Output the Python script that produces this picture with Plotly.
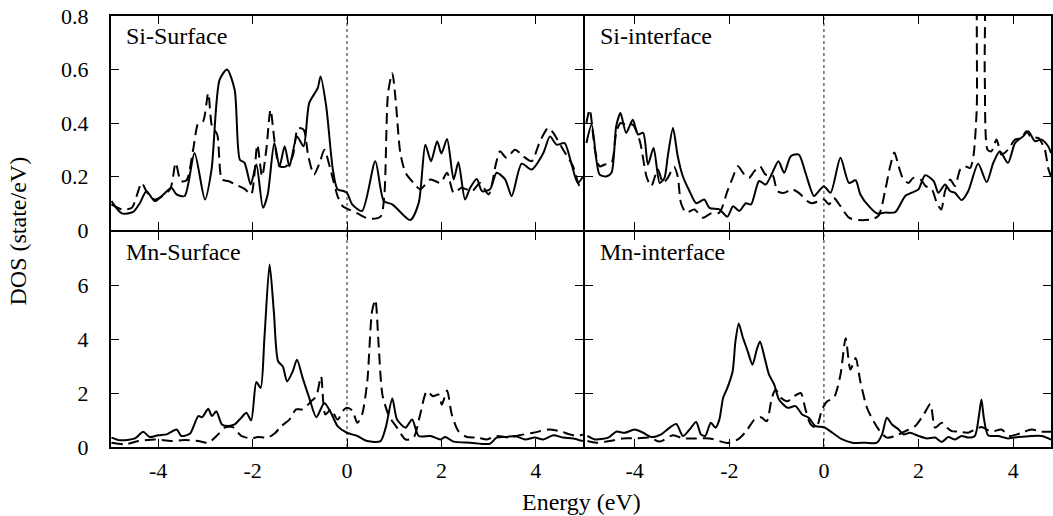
import plotly.graph_objects as go

# ---------------- data ----------------
si_surf_E_up = [-4.99,-4.77,-4.53,-4.39,-4.25,-4.07,-3.89,-3.72,-3.61,-3.44,-3.23,-3.01,-2.87,-2.70,-2.54,-2.38,-2.27,-2.17,-2.04,-1.92,-1.78,-1.68,-1.54,-1.43,-1.32,-1.22,-1.06,-0.92,-0.80,-0.62,-0.56,-0.44,-0.30,-0.20,-0.06,0.0,0.11,0.32,0.60,0.78,0.96,1.34,1.52,1.66,1.78,1.91,2.00,2.12,2.26,2.36,2.50,2.61,2.75,2.86,3.03,3.17,3.35,3.49,3.70,3.91,4.16,4.30,4.44,4.61,4.75,4.89,5.0]
si_surf_up = [0.108,0.062,0.068,0.10,0.145,0.108,0.133,0.158,0.133,0.127,0.288,0.114,0.226,0.561,0.60,0.524,0.263,0.251,0.17,0.245,0.083,0.133,0.325,0.238,0.313,0.238,0.35,0.313,0.475,0.53,0.574,0.462,0.226,0.152,0.145,0.139,0.096,0.071,0.257,0.108,0.096,0.037,0.102,0.319,0.257,0.332,0.286,0.34,0.189,0.253,0.114,0.158,0.191,0.145,0.152,0.214,0.189,0.127,0.248,0.226,0.288,0.35,0.319,0.325,0.251,0.176,0.20]
si_surf_E_dn = [-4.99,-4.77,-4.56,-4.35,-4.25,-4.07,-3.75,-3.63,-3.52,-3.40,-3.26,-3.15,-3.05,-2.94,-2.86,-2.75,-2.65,-2.52,-2.31,-2.17,-2.03,-1.90,-1.80,-1.71,-1.62,-1.53,-1.43,-1.29,-1.15,-1.04,-0.92,-0.82,-0.70,-0.58,-0.48,-0.35,-0.20,-0.09,0.0,0.22,0.46,0.71,0.79,0.87,0.96,1.03,1.13,1.24,1.41,1.55,1.77,1.98,2.12,2.26,2.43,2.65,2.82,3.00,3.16,3.24,3.38,3.56,3.73,3.91,4.09,4.26,4.37,4.58,4.79,4.93,5.0]
si_surf_dn = [0.096,0.077,0.083,0.176,0.145,0.114,0.152,0.251,0.183,0.186,0.30,0.40,0.406,0.512,0.388,0.357,0.189,0.183,0.166,0.154,0.133,0.319,0.20,0.30,0.45,0.325,0.238,0.238,0.276,0.38,0.375,0.276,0.207,0.251,0.30,0.226,0.127,0.089,0.08,0.062,0.042,0.05,0.127,0.512,0.586,0.487,0.288,0.214,0.176,0.152,0.189,0.176,0.214,0.139,0.158,0.145,0.176,0.133,0.251,0.294,0.27,0.30,0.276,0.257,0.332,0.381,0.363,0.30,0.238,0.164,0.17]

si_int_E_up = [-5.02,-4.91,-4.81,-4.74,-4.60,-4.49,-4.39,-4.30,-4.18,-4.04,-3.93,-3.82,-3.72,-3.60,-3.47,-3.37,-3.30,-3.19,-3.09,-2.98,-2.84,-2.70,-2.53,-2.42,-2.21,-2.04,-1.92,-1.79,-1.65,-1.54,-1.37,-1.23,-1.09,-0.96,-0.84,-0.70,-0.53,-0.39,-0.21,-0.11,0.0,0.14,0.35,0.53,0.67,0.77,0.95,1.12,1.30,1.51,1.72,1.89,2.00,2.14,2.32,2.42,2.56,2.67,2.77,2.91,3.05,3.26,3.44,3.58,3.72,3.89,4.04,4.21,4.32,4.46,4.60,4.74,4.80]
si_int_up = [0.325,0.394,0.263,0.207,0.20,0.214,0.388,0.437,0.363,0.412,0.357,0.363,0.245,0.307,0.176,0.195,0.276,0.381,0.276,0.20,0.145,0.10,0.114,0.083,0.077,0.05,0.089,0.071,0.10,0.096,0.183,0.17,0.214,0.257,0.214,0.276,0.282,0.214,0.127,0.145,0.164,0.139,0.27,0.176,0.186,0.133,0.089,0.062,0.065,0.067,0.127,0.142,0.152,0.205,0.183,0.139,0.17,0.145,0.139,0.112,0.145,0.248,0.179,0.251,0.294,0.251,0.325,0.35,0.369,0.332,0.338,0.313,0.288]
si_int_E_dn = [-5.02,-4.95,-4.84,-4.74,-4.63,-4.49,-4.39,-4.30,-4.18,-4.04,-3.89,-3.75,-3.65,-3.51,-3.40,-3.30,-3.17,-3.09,-3.02,-2.91,-2.74,-2.56,-2.39,-2.21,-2.04,-1.93,-1.82,-1.68,-1.58,-1.47,-1.35,-1.23,-1.09,-0.98,-0.84,-0.67,-0.53,-0.35,-0.25,-0.11,0.0,0.11,0.21,0.35,0.53,0.74,1.02,1.16,1.30,1.40,1.49,1.58,1.68,1.79,1.89,2.04,2.15,2.28,2.39,2.48,2.56,2.67,2.77,2.88,2.98,3.09,3.16,3.23,3.29,3.36,3.40,3.46,3.54,3.65,3.75,3.89,4.04,4.18,4.28,4.39,4.53,4.67,4.74,4.80]
si_int_dn = [0.40,0.45,0.30,0.238,0.245,0.251,0.363,0.40,0.394,0.394,0.332,0.20,0.164,0.226,0.176,0.195,0.236,0.20,0.10,0.065,0.077,0.046,0.062,0.065,0.145,0.195,0.238,0.207,0.195,0.22,0.238,0.207,0.207,0.145,0.139,0.152,0.139,0.108,0.10,0.108,0.114,0.096,0.12,0.089,0.046,0.037,0.04,0.055,0.152,0.238,0.29,0.238,0.189,0.176,0.195,0.189,0.164,0.152,0.10,0.077,0.145,0.189,0.164,0.226,0.238,0.232,0.276,0.45,1.05,1.05,0.574,0.30,0.294,0.338,0.282,0.30,0.338,0.344,0.369,0.344,0.344,0.30,0.232,0.20]

mn_surf_E_up = [-4.99,-4.81,-4.49,-4.32,-4.18,-4.0,-3.82,-3.61,-3.51,-3.33,-3.15,-3.07,-2.94,-2.86,-2.77,-2.65,-2.52,-2.38,-2.24,-2.13,-2.03,-1.92,-1.83,-1.75,-1.64,-1.55,-1.46,-1.36,-1.27,-1.15,-1.06,-0.94,-0.80,-0.65,-0.48,-0.34,-0.20,0.0,0.22,0.43,0.71,0.82,0.96,1.06,1.24,1.38,1.52,1.77,1.98,2.08,2.26,2.61,3.03,3.17,3.38,3.56,3.77,3.98,4.16,4.37,4.58,4.79,5.0]
mn_surf_up = [0.35,0.25,0.32,0.57,0.37,0.44,0.47,0.65,0.41,0.49,1.15,1.11,1.42,1.15,1.33,0.84,0.78,0.84,1.09,1.27,0.99,2.42,2.20,4.05,6.79,5.04,3.19,3.0,2.44,2.81,3.25,2.57,1.83,1.11,1.64,1.27,0.78,0.53,0.41,0.22,0.22,0.72,1.80,1.02,0.72,1.02,0.41,0.41,0.28,0.37,0.20,0.16,0.12,0.35,0.37,0.41,0.28,0.35,0.28,0.44,0.35,0.32,0.22]
mn_surf_E_dn = [-4.99,-4.70,-4.42,-4.07,-3.72,-3.44,-3.15,-2.94,-2.73,-2.59,-2.42,-2.24,-2.03,-1.89,-1.68,-1.54,-1.39,-1.22,-1.08,-0.94,-0.76,-0.65,-0.55,-0.46,-0.34,-0.20,-0.06,0.0,0.11,0.22,0.32,0.43,0.53,0.60,0.67,0.75,0.89,1.06,1.24,1.41,1.55,1.69,1.82,1.94,2.01,2.12,2.22,2.36,2.54,2.78,2.96,3.17,3.45,3.66,3.95,4.26,4.51,4.72,4.89,5.0]
mn_surf_dn = [0.16,0.10,0.22,0.28,0.22,0.26,0.22,0.16,0.47,0.72,0.74,0.41,0.32,0.37,0.35,0.49,0.78,1.02,1.40,1.40,1.70,1.89,2.63,1.21,1.40,1.02,1.40,1.46,1.36,0.90,1.21,2.44,5.04,5.47,3.80,1.95,1.15,0.72,0.28,0.35,1.21,2.07,1.89,1.95,1.58,2.10,1.21,0.59,0.37,0.35,0.28,0.41,0.35,0.44,0.53,0.65,0.59,0.47,0.41,0.47]

mn_int_E_up = [-5.0,-4.84,-4.56,-4.39,-4.21,-4.0,-3.82,-3.65,-3.44,-3.26,-3.12,-2.98,-2.84,-2.70,-2.60,-2.51,-2.39,-2.29,-2.21,-2.13,-2.04,-1.93,-1.87,-1.80,-1.72,-1.61,-1.51,-1.42,-1.35,-1.26,-1.16,-1.05,-0.95,-0.77,-0.60,-0.46,-0.32,-0.18,0.0,0.18,0.39,0.60,0.88,1.12,1.23,1.33,1.44,1.58,1.68,1.82,2.0,2.18,2.35,2.49,2.63,2.77,2.91,3.05,3.19,3.28,3.33,3.38,3.47,3.68,3.89,4.11,4.39,4.60,4.80]
mn_int_up = [0.41,0.28,0.35,0.57,0.53,0.65,0.53,0.37,0.47,0.72,0.86,0.41,0.65,0.93,0.47,0.41,0.90,0.72,1.02,1.83,2.20,2.81,3.93,4.60,4.11,3.56,3.06,3.62,3.93,3.37,2.69,2.32,1.77,1.46,1.52,1.21,1.09,0.78,0.74,0.53,0.28,0.16,0.16,0.16,0.47,1.09,0.84,0.65,0.47,0.53,0.41,0.32,0.35,0.19,0.37,0.28,0.41,0.35,0.41,1.21,1.77,1.09,0.44,0.41,0.32,0.37,0.41,0.41,0.28]
mn_int_E_dn = [-5.0,-4.81,-4.53,-4.25,-3.96,-3.68,-3.47,-3.19,-2.98,-2.70,-2.42,-2.21,-2.04,-1.82,-1.65,-1.47,-1.33,-1.21,-1.10,-1.02,-0.91,-0.77,-0.63,-0.49,-0.39,-0.28,-0.16,-0.04,0.07,0.21,0.35,0.46,0.56,0.67,0.77,0.91,1.05,1.19,1.33,1.51,1.72,1.93,2.11,2.25,2.35,2.49,2.60,2.70,2.84,3.05,3.19,3.33,3.54,3.75,3.93,4.18,4.39,4.60,4.80]
mn_int_dn = [0.22,0.16,0.22,0.32,0.32,0.35,0.20,0.44,0.32,0.32,0.32,0.22,0.15,0.28,0.57,1.02,1.11,0.96,1.83,2.14,1.83,1.70,1.89,2.01,1.40,0.84,0.72,1.40,1.70,1.83,2.69,4.05,2.88,3.31,2.44,1.46,0.96,0.57,0.35,0.41,0.59,0.78,1.21,1.60,0.72,0.90,0.72,0.59,0.57,0.53,0.65,0.74,0.57,0.65,0.41,0.53,0.65,0.57,0.57]

panel_titles = ["Si-Surface", "Si-interface", "Mn-Surface", "Mn-interface"]
x_tickvals = [-4, -2, 0, 2, 4]
x_ticktext = ["-4", "-2", "0", "2", "4"]
top_tickvals = [0, 0.2, 0.4, 0.6, 0.8]
top_ticktext = ["0", "0.2", "0.4", "0.6", "0.8"]
bot_tickvals = [0, 2, 4, 6]
bot_ticktext = ["0", "2", "4", "6"]

# ---------------- figure ----------------
FONT = "Liberation Serif, Times New Roman, Times, serif"
fig = go.Figure()

solid = dict(color="black", width=2, shape="spline", smoothing=0.7)
dashed = dict(color="black", width=2, dash="11px,6px", shape="spline", smoothing=0.7)

# axis ids: x/y = Mn-Surface (bottom-left), x2/y2 = Mn-interface (bottom-right)
#           x3/y3 = Si-Surface (top-left), x4/y4 = Si-interface (top-right)
series = [
    ("x3", "y3", si_surf_E_up, si_surf_up, si_surf_E_dn, si_surf_dn),
    ("x4", "y4", si_int_E_up, si_int_up, si_int_E_dn, si_int_dn),
    ("x", "y", mn_surf_E_up, mn_surf_up, mn_surf_E_dn, mn_surf_dn),
    ("x2", "y2", mn_int_E_up, mn_int_up, mn_int_E_dn, mn_int_dn),
]
for xa, ya, eu, vu, ed, vd in series:
    fig.add_trace(go.Scatter(x=ed, y=vd, mode="lines", line=dashed, xaxis=xa, yaxis=ya,
                             showlegend=False, hoverinfo="skip"))
    fig.add_trace(go.Scatter(x=eu, y=vu, mode="lines", line=solid, xaxis=xa, yaxis=ya,
                             showlegend=False, hoverinfo="skip"))

# small gap between domains so the shared borders of neighbouring panels coincide
xl = 474 / 942
yb = 216 / 431
dx = 1 / 942
dy = 1 / 431
common = dict(showline=True, linecolor="black", linewidth=2, mirror="allticks",
              ticks="inside", ticklen=8, tickwidth=1.2, tickcolor="black",
              showgrid=False, zeroline=False,
              tickfont=dict(family=FONT, size=22, color="black"))

fig.update_layout(
    width=1053, height=516,
    margin=dict(l=111, r=0, t=16, b=69),
    paper_bgcolor="white", plot_bgcolor="rgba(0,0,0,0)",
    font=dict(family=FONT, size=22, color="black"),
    xaxis=dict(domain=[0, xl - dx], range=[-5, 5], anchor="y", tickvals=x_tickvals,
               ticktext=x_ticktext, ticklabelstandoff=3, **common),
    xaxis2=dict(domain=[xl + dx, 1], range=[-5.05, 4.8], anchor="y2", tickvals=x_tickvals,
                ticktext=x_ticktext, ticklabelstandoff=3, **common),
    xaxis3=dict(domain=[0, xl - dx], range=[-5, 5], anchor="y3", tickvals=x_tickvals,
                showticklabels=False, **common),
    xaxis4=dict(domain=[xl + dx, 1], range=[-5.05, 4.8], anchor="y4", tickvals=x_tickvals,
                showticklabels=False, **common),
    yaxis=dict(domain=[0, yb - dy], range=[0, 8], anchor="x", tickvals=bot_tickvals,
               ticktext=bot_ticktext, ticklabelstandoff=16, **common),
    yaxis2=dict(domain=[0, yb - dy], range=[0, 8], anchor="x2", tickvals=bot_tickvals,
                showticklabels=False, **common),
    yaxis3=dict(domain=[yb + dy, 1], range=[0, 0.8], anchor="x3", tickvals=top_tickvals,
                ticktext=top_ticktext, ticklabelstandoff=16, **common),
    yaxis4=dict(domain=[yb + dy, 1], range=[0, 0.8], anchor="x4", tickvals=top_tickvals,
                showticklabels=False, **common),
)

# dotted Fermi-level lines
for xa, ya in [("x", "y"), ("x2", "y2"), ("x3", "y3"), ("x4", "y4")]:
    fig.add_shape(type="line", xref=xa, yref=ya + " domain", x0=0, x1=0, y0=0, y1=1,
                  line=dict(color="#444444", width=1.2, dash="dot"), layer="below")

# panel labels
for (xa, ya), txt in zip([("x3", "y3"), ("x4", "y4"), ("x", "y"), ("x2", "y2")], panel_titles):
    fig.add_annotation(xref=xa + " domain", yref=ya + " domain", x=0.028, y=0.975,
                       xanchor="left", yanchor="top", showarrow=False, text=txt,
                       font=dict(family=FONT, size=24, color="black"))

fig.add_annotation(xref="paper", yref="paper", x=0.5, y=-0.127, yanchor="middle",
                   showarrow=False, text="Energy (eV)",
                   font=dict(family=FONT, size=24, color="black"))
fig.add_annotation(xref="paper", yref="paper", x=-0.1, y=0.5, xanchor="center",
                   yanchor="middle", showarrow=False, text="DOS (state/eV)", textangle=-90,
                   font=dict(family=FONT, size=24, color="black"))

fig.write_html("out.html")
